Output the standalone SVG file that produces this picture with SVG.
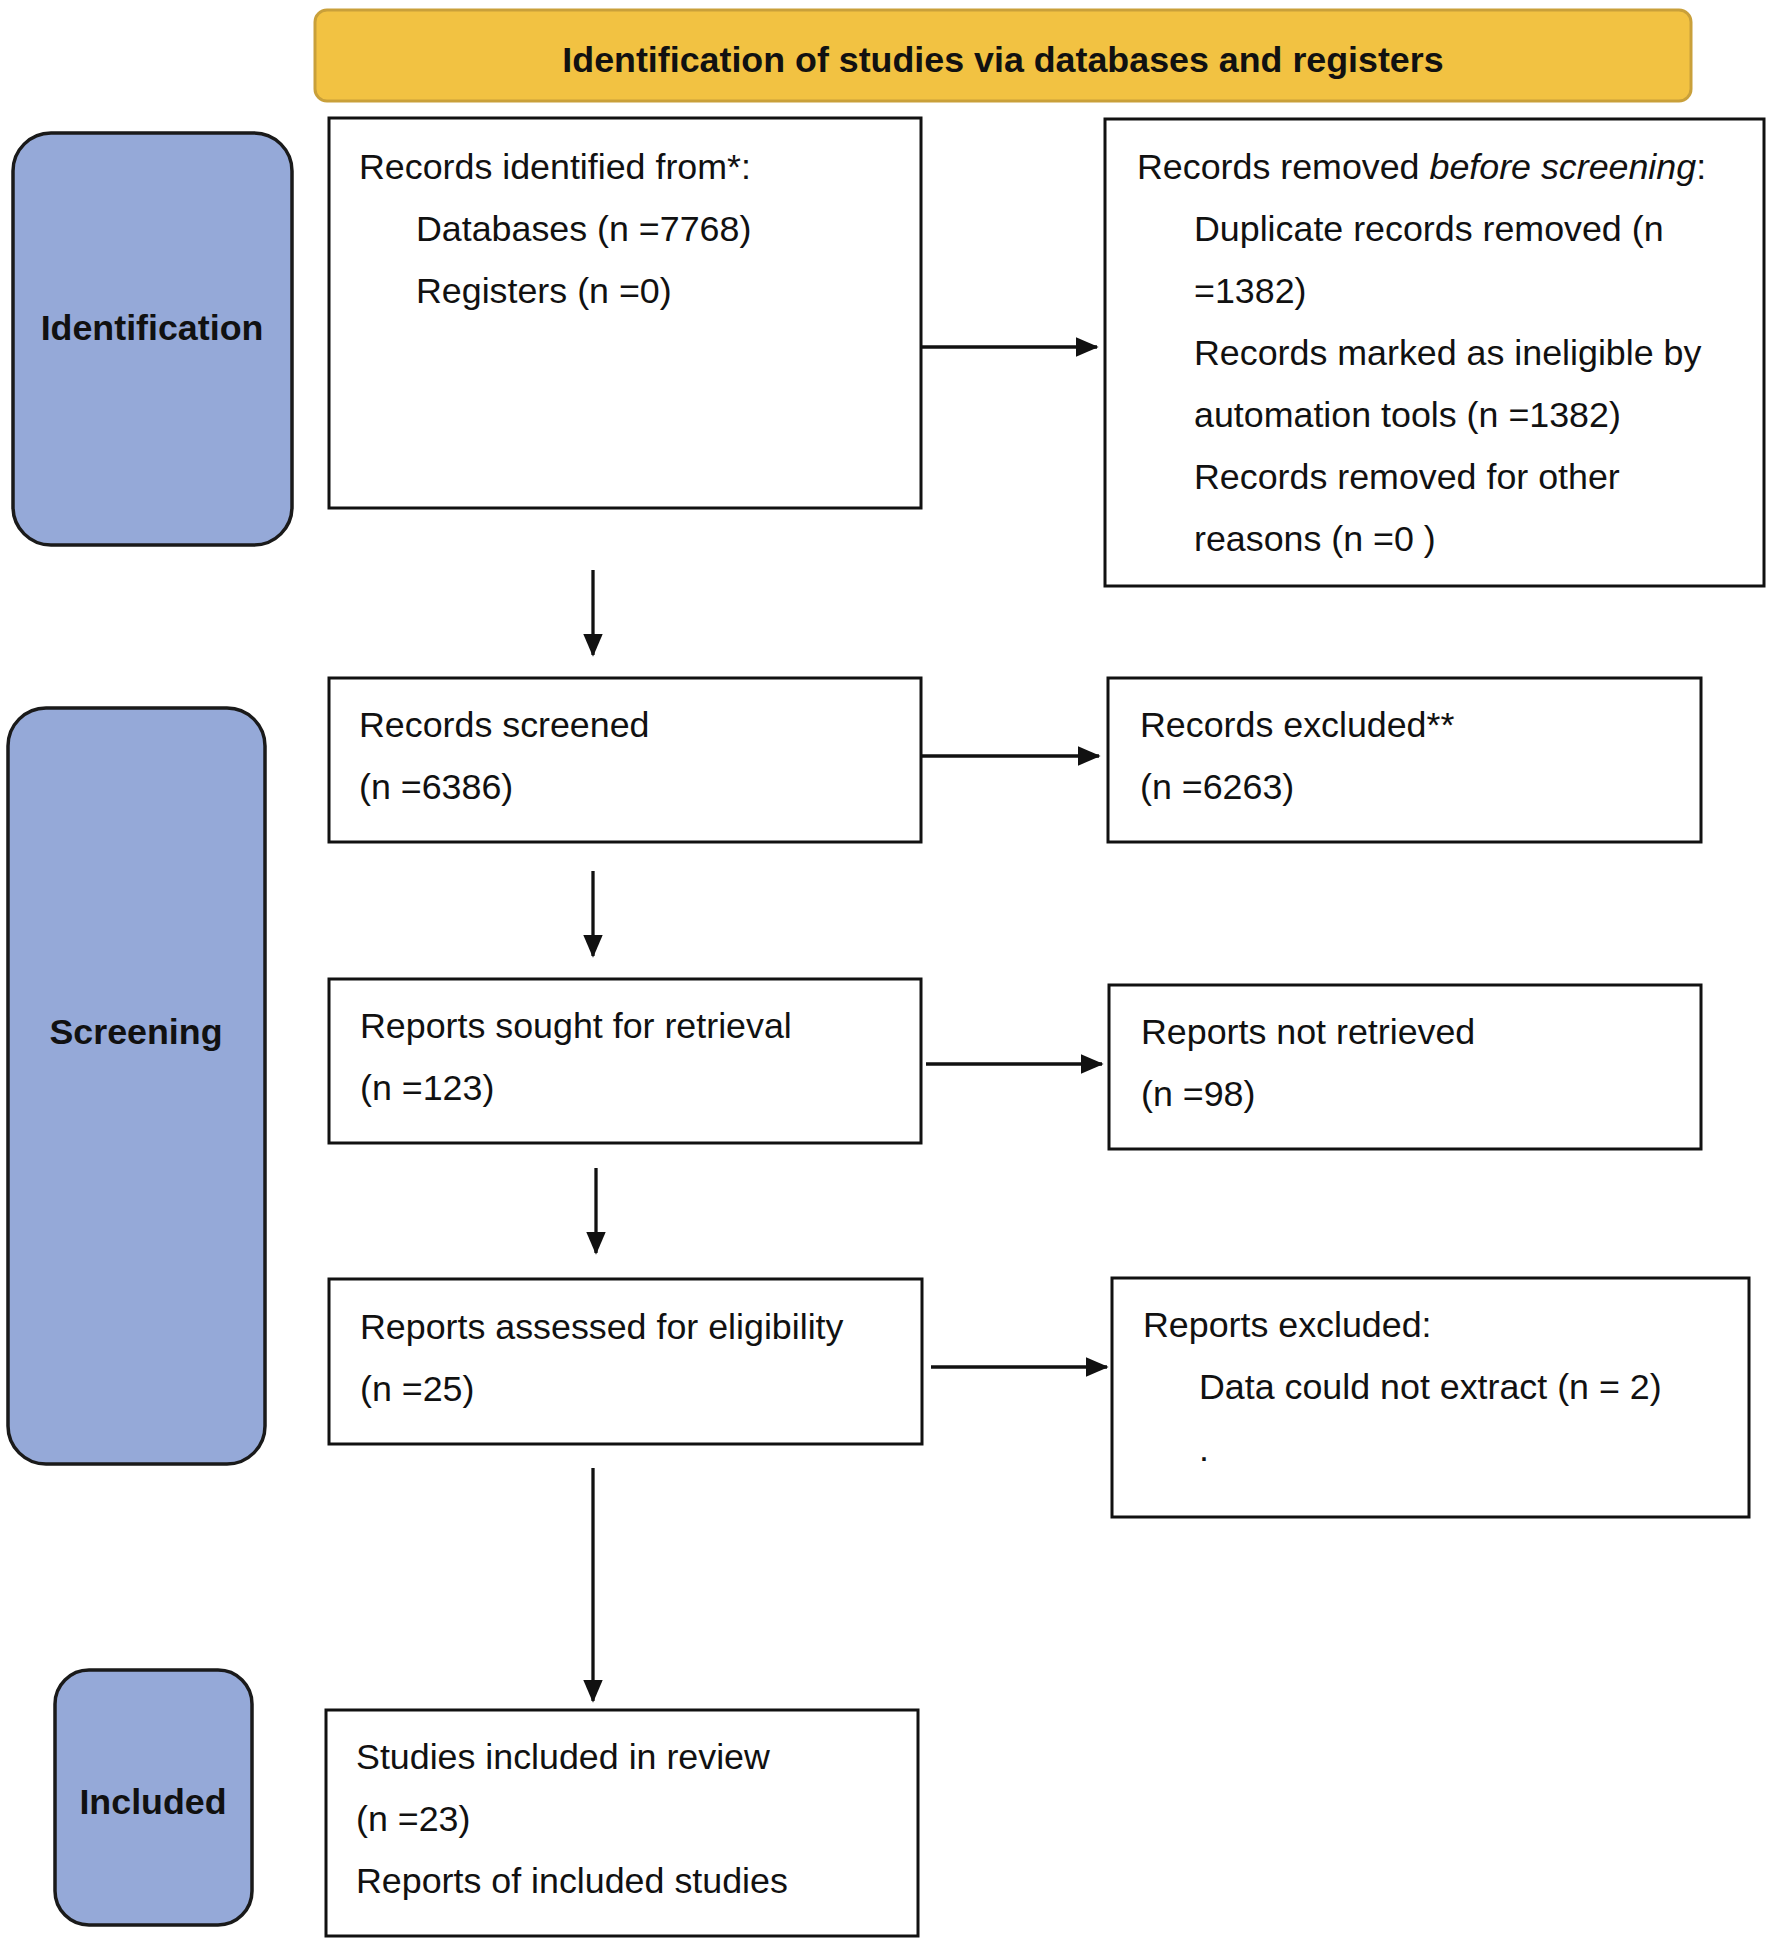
<svg xmlns="http://www.w3.org/2000/svg" width="1772" height="1946" viewBox="0 0 1772 1946">
<style>
text{font-family:"Liberation Sans",Arial,sans-serif;font-size:35.8px;fill:#111;}
.b{font-weight:bold;}
.box{fill:#fff;stroke:#111;stroke-width:3;}
.side{fill:#95A9D8;stroke:#1a1a1a;stroke-width:3.5;}
.hdr{fill:#F2C242;stroke:#C9A03A;stroke-width:3;}
.ln{stroke:#111;stroke-width:3.3;fill:none;marker-end:url(#ah);}
</style>
<defs>
<marker id="ah" markerWidth="7" markerHeight="6" refX="6.5" refY="3" orient="auto" markerUnits="strokeWidth">
<path d="M0,0 L7,3 L0,6 Z" fill="#111"/>
</marker>
</defs>
<rect width="1772" height="1946" fill="#fff"/>
<g id="header">
<rect class="hdr" x="315" y="10" width="1376" height="91" rx="12"/>
<text class="b" x="1003" y="72" text-anchor="middle">Identification of studies via databases and registers</text>
</g>
<g id="side-identification">
<rect class="side" x="13" y="133" width="279" height="412" rx="38"/>
<text class="b" x="152" y="340" text-anchor="middle">Identification</text>
</g>
<g id="side-screening">
<rect class="side" x="8" y="708" width="257" height="756" rx="38"/>
<text class="b" x="136" y="1044" text-anchor="middle">Screening</text>
</g>
<g id="side-included">
<rect class="side" x="55" y="1670" width="197" height="255" rx="34"/>
<text class="b" x="153" y="1814" text-anchor="middle">Included</text>
</g>
<g id="n-identified">
<rect class="box" x="329" y="118" width="592" height="390"/>
<text x="359" y="179">Records identified from*:</text>
<text x="416" y="241">Databases (n =7768)</text>
<text x="416" y="303">Registers (n =0)</text>
</g>
<g id="n-removed">
<rect class="box" x="1105" y="119" width="659" height="467"/>
<text x="1137" y="179">Records removed <tspan font-style="italic">before screening</tspan>:</text>
<text x="1194" y="241">Duplicate records removed (n</text>
<text x="1194" y="303">=1382)</text>
<text x="1194" y="365">Records marked as ineligible by</text>
<text x="1194" y="427">automation tools (n =1382)</text>
<text x="1194" y="489">Records removed for other</text>
<text x="1194" y="551">reasons (n =0 )</text>
</g>
<g id="n-screened">
<rect class="box" x="329" y="678" width="592" height="164"/>
<text x="359" y="737">Records screened</text>
<text x="359" y="799">(n =6386)</text>
</g>
<g id="n-excluded">
<rect class="box" x="1108" y="678" width="593" height="164"/>
<text x="1140" y="737">Records excluded**</text>
<text x="1140" y="799">(n =6263)</text>
</g>
<g id="n-sought">
<rect class="box" x="329" y="979" width="592" height="164"/>
<text x="360" y="1038">Reports sought for retrieval</text>
<text x="360" y="1100">(n =123)</text>
</g>
<g id="n-notretrieved">
<rect class="box" x="1109" y="985" width="592" height="164"/>
<text x="1141" y="1044">Reports not retrieved</text>
<text x="1141" y="1106">(n =98)</text>
</g>
<g id="n-assessed">
<rect class="box" x="329" y="1279" width="593" height="165"/>
<text x="360" y="1339">Reports assessed for eligibility</text>
<text x="360" y="1401">(n =25)</text>
</g>
<g id="n-reportsexcluded">
<rect class="box" x="1112" y="1278" width="637" height="239"/>
<text x="1143" y="1337">Reports excluded:</text>
<text x="1199" y="1399">Data could not extract (n = 2)</text>
<text x="1199" y="1461">.</text>
</g>
<g id="n-included">
<rect class="box" x="326" y="1710" width="592" height="226"/>
<text x="356" y="1769">Studies included in review</text>
<text x="356" y="1831">(n =23)</text>
<text x="356" y="1893">Reports of included studies</text>
</g>
<g id="connectors">
<line class="ln" x1="593" y1="570" x2="593" y2="655"/>
<line class="ln" x1="593" y1="871" x2="593" y2="956"/>
<line class="ln" x1="596" y1="1168" x2="596" y2="1253"/>
<line class="ln" x1="593" y1="1468" x2="593" y2="1701"/>
<line class="ln" x1="922" y1="347" x2="1097" y2="347"/>
<line class="ln" x1="922" y1="756" x2="1099" y2="756"/>
<line class="ln" x1="926" y1="1064" x2="1102" y2="1064"/>
<line class="ln" x1="931" y1="1367" x2="1107" y2="1367"/>
</g>
</svg>
